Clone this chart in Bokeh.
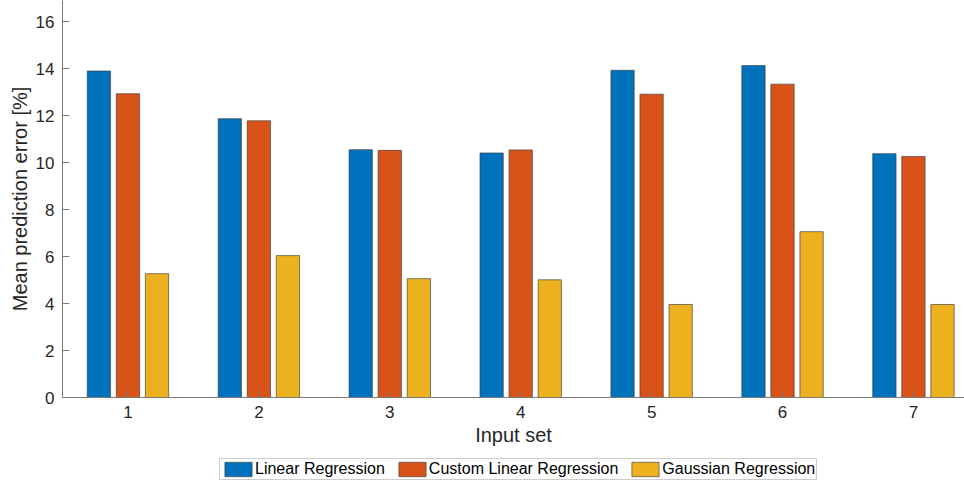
from bokeh.plotting import figure
from bokeh.layouts import column
from bokeh.models import Range1d, FixedTicker, Legend, LegendItem
from bokeh.embed import file_html
from bokeh.resources import INLINE

categories = [1, 2, 3, 4, 5, 6, 7]
linear = [13.90, 11.87, 10.55, 10.41, 13.93, 14.13, 10.38]
custom_linear = [12.93, 11.78, 10.52, 10.54, 12.91, 13.34, 10.26]
gaussian = [5.27, 6.04, 5.06, 5.01, 3.96, 7.06, 3.96]
series_names = ["Linear Regression", "Custom Linear Regression", "Gaussian Regression"]
colors = ["#0072BD", "#D95319", "#EDB120"]
y_ticks = [0, 2, 4, 6, 8, 10, 12, 14, 16]

FONT = "Liberation Sans"

p = figure(width=964, height=457, output_backend="svg", toolbar_location=None,
           x_range=Range1d(0.5, 7.39), y_range=Range1d(0, 16.9),
           min_border_left=62, min_border_right=0, min_border_top=0, min_border_bottom=60)
p.outline_line_color = None
p.grid.visible = False
p.background_fill_color = "white"
p.border_fill_color = "white"

offsets = [-0.222, 0.0, 0.222]
width = 0.178
bar_style = dict(line_color="#3a3a3a", line_width=0.8, line_alpha=0.8)
for vals, off, col in zip([linear, custom_linear, gaussian], offsets, colors):
    p.vbar(x=[c + off for c in categories], top=vals, width=width, bottom=0,
           fill_color=col, **bar_style)

for ax in (p.xaxis[0], p.yaxis[0]):
    ax.axis_line_color = "#7a7a7a"
    ax.major_tick_line_color = "#7a7a7a"
    ax.minor_tick_line_color = None
    ax.major_tick_in = 7
    ax.major_tick_out = 0
    ax.major_label_text_font = FONT
    ax.major_label_text_font_size = "17px"
    ax.major_label_text_color = "#262626"
    ax.axis_label_text_font = FONT
    ax.axis_label_text_font_size = "20px"
    ax.axis_label_text_color = "#262626"
    ax.axis_label_text_font_style = "normal"

p.xaxis[0].ticker = FixedTicker(ticks=categories)
p.yaxis[0].ticker = FixedTicker(ticks=y_ticks)
p.xaxis[0].axis_label = "Input set"
p.yaxis[0].axis_label = "Mean prediction error [%]"
p.xaxis[0].major_label_standoff = 8
p.xaxis[0].axis_label_standoff = 3
p.yaxis[0].major_label_standoff = 8
p.yaxis[0].axis_label_standoff = 2

# Legend strip under the axes (swatch renderers sit outside the visible range)
lg = figure(width=964, height=24, output_backend="svg", toolbar_location=None,
            x_range=Range1d(0, 1), y_range=Range1d(0, 1),
            x_axis_location=None, y_axis_location=None,
            min_border_left=0, min_border_right=0, min_border_top=0, min_border_bottom=0)
lg.grid.visible = False
lg.outline_line_color = None
lg.border_fill_color = "white"
items = []
for col, name in zip(colors, series_names):
    r = lg.vbar(x=[5], top=[1], width=0.1, fill_color=col, **bar_style)
    items.append(LegendItem(label=name, renderers=[r]))

legend = Legend(items=items, orientation="horizontal", location=(157, 1))
legend.label_text_font = FONT
legend.label_text_font_size = "16px"
legend.label_text_color = "#000000"
legend.glyph_width = 34
legend.glyph_height = 18
legend.label_standoff = 0
legend.spacing = 10
legend.padding = 1
legend.margin = 0
legend.border_line_color = "#999999"
legend.label_height = 15
lg.add_layout(legend)

layout = column(p, lg, spacing=0)
open("out.html", "w").write(file_html(layout, INLINE))
